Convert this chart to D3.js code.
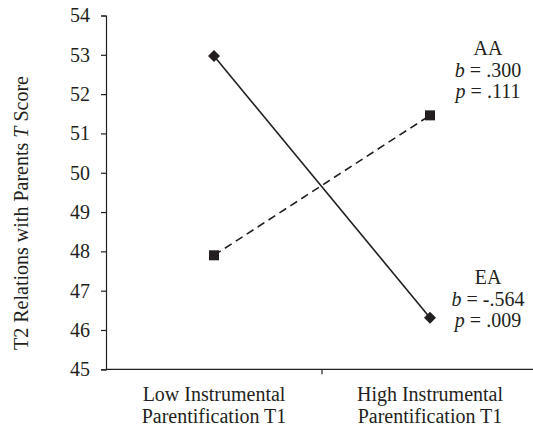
<!DOCTYPE html>
<html>
<head>
<meta charset="utf-8">
<script src="https://cdn.jsdelivr.net/npm/d3@7/dist/d3.min.js"></script>
<style>
  body { margin: 0; background: #fff; }
  svg text { font-family: 'Times New Roman', 'Liberation Serif', 'DejaVu Serif', serif; fill: #231f20; }
</style>
</head>
<body>
<div id="chart"></div>
<script>
'use strict';
// x categories, two lines each
const categories = ['Low', 'High'];
const categoryLabels = [
    ['Low Instrumental', 'Parentification T1'],
    ['High Instrumental', 'Parentification T1']
];
// series values
const eaValues = [52.97, 46.31];
const aaValues = [47.9, 51.46];
const yTicks = [45, 46, 47, 48, 49, 50, 51, 52, 53, 54];
const aaNote = ['AA', ['b', ' = .300'], ['p', ' = .111']];
const eaNote = ['EA', ['b', ' = -.564'], ['p', ' = .009']];

((d3) => {
    const width = 533;
    const height = 429;
    const margin = { top: 15.5, left: 106, bottom: 60 };
    const ink = '#231f20';
    const serif = "'Times New Roman', 'Liberation Serif', serif";

    const svg = d3.select('#chart')
        .append('svg')
        .attr('width', width)
        .attr('height', height)
        .attr('font-family', serif);

//scales
    const x = d3.scaleBand()
        .domain(categories)
        .range([margin.left, 538]);
    const y = d3.scaleLinear()
        .domain([45, 54])
        .range([369.3, margin.top]);
    const cx = (i) => x(categories[i]) + x.bandwidth() / 2;

//y axis
    const yAxis = svg.append('g')
        .attr('transform', 'translate(' + margin.left + ',0)')
        .call(d3.axisLeft(y).tickValues(yTicks).tickSize(5).tickSizeOuter(5).tickPadding(11));
    yAxis.attr('font-family', serif).attr('font-size', 20);
    yAxis.selectAll('path, line').attr('stroke', ink).attr('stroke-width', 1.2);
    yAxis.selectAll('text').attr('fill', ink);

//x axis: line plus divider ticks between categories
    const xAxis = svg.append('g')
        .attr('transform', 'translate(0,' + y(45) + ')');
    xAxis.append('line')
        .attr('x1', margin.left)
        .attr('x2', width)
        .attr('stroke', ink)
        .attr('stroke-width', 1.2);
    xAxis.selectAll('.divider')
        .data(categories.slice(1))
        .enter()
        .append('line')
        .attr('class', 'divider')
        .attr('x1', (d) => x(d))
        .attr('x2', (d) => x(d))
        .attr('y2', 5)
        .attr('stroke', ink)
        .attr('stroke-width', 1.2);
    const xLabel = xAxis.selectAll('.xlabel')
        .data(categoryLabels)
        .enter()
        .append('text')
        .attr('class', 'xlabel')
        .attr('text-anchor', 'middle')
        .attr('font-size', 20)
        .attr('transform', (d, i) => 'translate(' + cx(i) + ',32)');
    xLabel.selectAll('tspan')
        .data((d) => d)
        .enter()
        .append('tspan')
        .attr('x', 0)
        .attr('y', (d, i) => i * 22)
        .text((d) => d);

//y axis title
    const yTitle = svg.append('text')
        .attr('transform', 'translate(28,' + 213 + ') rotate(-90)')
        .attr('text-anchor', 'middle')
        .attr('font-size', 20);
    yTitle.append('tspan').text('T2 Relations with Parents ');
    yTitle.append('tspan').attr('font-style', 'italic').text('T');
    yTitle.append('tspan').text(' Score');

//lines
    const line = d3.line()
        .x((d, i) => cx(i))
        .y((d) => y(d));
    svg.append('path')
        .datum(eaValues)
        .attr('d', line)
        .attr('fill', 'none')
        .attr('stroke', ink)
        .attr('stroke-width', 1.6);
    svg.append('path')
        .datum(aaValues)
        .attr('d', line)
        .attr('fill', 'none')
        .attr('stroke', ink)
        .attr('stroke-width', 1.6)
        .attr('stroke-dasharray', '8,5');

//markers
    svg.selectAll('.ea')
        .data(eaValues)
        .enter()
        .append('path')
        .attr('class', 'ea')
        .attr('d', d3.symbol(d3.symbolSquare, 72))
        .attr('transform', (d, i) => 'translate(' + cx(i) + ',' + y(d) + ') rotate(45)')
        .attr('fill', ink);
    svg.selectAll('.aa')
        .data(aaValues)
        .enter()
        .append('path')
        .attr('class', 'aa')
        .attr('d', d3.symbol(d3.symbolSquare, 100))
        .attr('transform', (d, i) => 'translate(' + cx(i) + ',' + y(d) + ')')
        .attr('fill', ink);

//annotations
    const note = (lines, px, py) => {
        const t = svg.append('text')
            .attr('text-anchor', 'middle')
            .attr('font-size', 20)
            .attr('transform', 'translate(' + px + ',' + py + ')');
        lines.forEach((l, i) => {
            const ts = t.append('tspan').attr('x', 0).attr('y', i * 21.5);
            if (typeof l === 'string') {
                ts.text(l);
            } else {
                ts.append('tspan').attr('font-style', 'italic').text(l[0]);
                ts.append('tspan').text(l[1]);
            }
        });
    };
    note(aaNote, 488, 55);
    note(eaNote, 488, 284);

})(window.d3);
</script>
</body>
</html>
